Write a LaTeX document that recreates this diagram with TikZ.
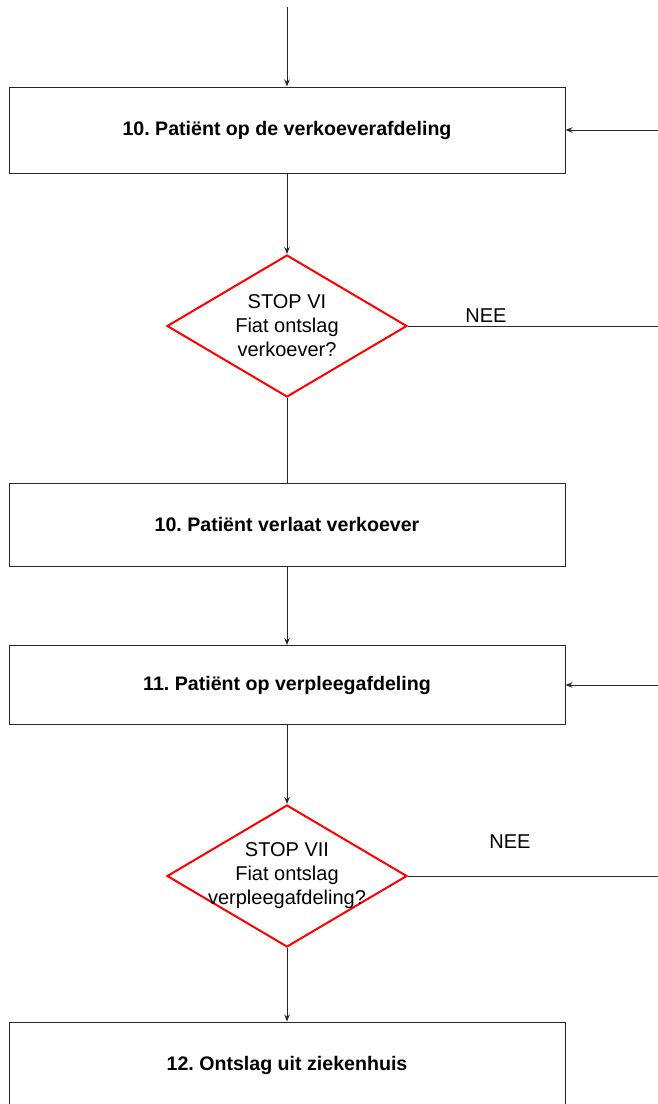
\documentclass[tikz,border=0pt]{standalone}
\usepackage{fontspec}
\setmainfont{Liberation Sans}
\frenchspacing
\usetikzlibrary{shapes.geometric,arrows.meta}
\tikzset{
  stepbox/.style={draw=black!85, line width=1pt, rectangle, minimum width=556pt, minimum height=#1, inner sep=0pt, font=\fontsize{19.6}{23}\selectfont\bfseries},
  dia/.style={draw=red, line width=2pt, diamond, minimum width=240pt, minimum height=142pt, inner sep=0pt},
  dtext/.style={align=center, font=\fontsize{20}{24}\selectfont, inner sep=0pt},
  lbl/.style={font=\fontsize{20}{24}\selectfont, inner sep=0pt},
  conn/.style={draw=black!85, line width=1pt},
  arr/.style={conn, -{Stealth[length=7pt,width=5.5pt]}}
}
\begin{document}
\begin{tikzpicture}[x=1pt,y=-1pt]
\clip (0,0) rectangle (658,1104);
\useasboundingbox (0,0) rectangle (658,1104);
\fill[white] (0,0) rectangle (658,1104);

\coordinate (top) at (287,7);
\node[stepbox=86pt] (b1) at (287,130) {10. Patiënt op de verkoeverafdeling};
\coordinate (r1) at (660,130);
\node[dia] (d1) at (287,326) {};
\node[dtext] (t1) at (287,326) {STOP VI\\Fiat ontslag\\verkoever?};
\coordinate (n1) at (660,326);
\node[lbl] (nee1) at (486,316) {NEE};
\node[stepbox=83pt] (b2) at (287,524.5) {10. Patiënt verlaat verkoever};
\node[stepbox=79pt] (b3) at (287,685) {11. Patiënt op verpleegafdeling};
\coordinate (r3) at (660,685);
\node[dia] (d2) at (287,876) {};
\node[dtext] (t2) at (287,876) {STOP VII\\Fiat ontslag\\verpleegafdeling?};
\coordinate (n2) at (660,876);
\node[lbl] (nee2) at (510,842) {NEE};
\node[stepbox=86pt] (b4) at (287,1065) {12. Ontslag uit ziekenhuis};

\draw[arr] (top) -- (b1.north);
\draw[arr] (r1) -- (b1.east);
\draw[arr] (b1.south) -- (d1.north);
\draw[conn] (d1.east) -- (n1);
\draw[conn] (d1.south) -- (b2.north);
\draw[arr] (b2.south) -- (b3.north);
\draw[arr] (r3) -- (b3.east);
\draw[arr] (b3.south) -- (d2.north);
\draw[conn] (d2.east) -- (n2);
\draw[arr] (d2.south) -- (b4.north);
\end{tikzpicture}
\end{document}
